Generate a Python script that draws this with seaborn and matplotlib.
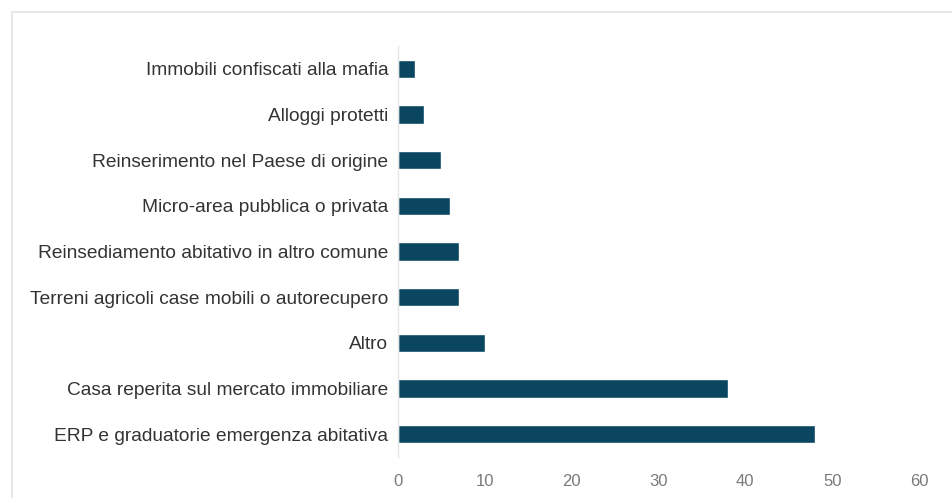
import matplotlib
matplotlib.use("Agg")
import matplotlib.pyplot as plt
from matplotlib.patches import Rectangle
import seaborn as sns
import pandas as pd

categories = [
    "Immobili confiscati alla mafia",
    "Alloggi protetti",
    "Reinserimento nel Paese di origine",
    "Micro-area pubblica o privata",
    "Reinsediamento abitativo in altro comune",
    "Terreni agricoli case mobili o autorecupero",
    "Altro",
    "Casa reperita sul mercato immobiliare",
    "ERP e graduatorie emergenza abitativa",
]
values = [2, 3, 5, 6, 7, 7, 10, 38, 48]
xticks = [0, 10, 20, 30, 40, 50, 60]

df = pd.DataFrame({"cat": categories, "val": values})

sns.set_style("white")
plt.rcParams["font.family"] = ["Liberation Sans", "DejaVu Sans"]

fig = plt.figure(figsize=(9.52, 4.98), dpi=100)
# light frame around the chart area
fig.patches.append(Rectangle((12 / 952, -0.05), 1.2, 1 - 12 / 498 + 0.05,
                             transform=fig.transFigure, fill=False,
                             edgecolor="#e4e4e4", linewidth=1.2))
ax = fig.add_axes([398 / 952, 1 - 457 / 498, (919 - 398) / 952, (457 - 46) / 498])

sns.barplot(data=df, y="cat", x="val", color="#0b4661", width=0.4,
            saturation=1, ax=ax)

ax.set_xlim(0, 60)
ax.set_ylim(8.5, -0.5)
ax.set_xticks(xticks)
ax.set_xlabel("")
ax.set_ylabel("")
for s in ["top", "right", "bottom"]:
    ax.spines[s].set_visible(False)
ax.spines["left"].set_color("#e6e6e6")
ax.spines["left"].set_linewidth(1.0)
ax.tick_params(axis="y", length=0, pad=7, labelsize=13.8, labelcolor="#333333")
ax.tick_params(axis="x", length=0, pad=12, labelsize=12, labelcolor="#7a7a7a")

fig.savefig("out.png", dpi=100)
